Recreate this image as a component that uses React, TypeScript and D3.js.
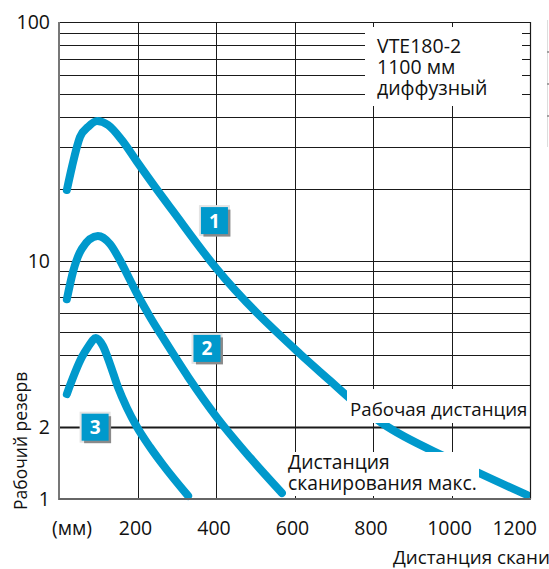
import React from "react";
import * as d3 from "d3";

// ---- data ----
const curve1Dist = [20, 33, 53.5, 74, 97, 125, 160, 199, 245, 288, 400, 614, 690, 746, 823, 1001, 1192];
const curve1Res = [19.75, 24.66, 32.95, 36.3, 38.45, 37.0, 32.0, 25.9, 20.3, 16.3, 9.3, 4.06, 3.14, 2.6, 2.08, 1.457, 1.04];
const curve2Dist = [20, 36, 58, 99, 130, 155, 181, 199, 232, 270, 329, 403, 487, 568];
const curve2Res = [6.88, 9.0, 11.2, 12.67, 11.73, 10.05, 8.28, 7.24, 5.8, 4.6, 3.25, 2.19, 1.49, 1.06];
const curve3Dist = [20, 58.6, 74, 94, 112, 130, 150, 173, 199, 232, 265, 329];
const curve3Res = [2.755, 3.94, 4.34, 4.73, 4.38, 3.68, 2.95, 2.41, 2.0, 1.65, 1.39, 1.03];
const badgeNames = ["1", "2", "3"];
const badgeDist = [396, 377, 92];
const badgeRes = [14.7, 4.28, 2.0];
const xTickValues = [200, 400, 600, 800, 1000, 1200];
const xTickLabels = ["200", "400", "600", "800", "1000", "1200"];
const yTickValues = [1, 2, 10, 100];
const yTickLabels = ["1", "2", "10", "100"];
const yGridValues = [2, 3, 4, 5, 6, 7, 8, 9, 10, 20, 30, 40, 50, 60, 70, 80, 90];
const legendLines = ["VTE180-2", "1100 мм", "диффузный"];

const BLUE = "#0099cc";
const FONT = "'Open Sans', 'Noto Sans', sans-serif";

export default function App() {
  const W = 549, H = 569;
  const x = d3.scaleLinear().domain([0, 1200]).range([59, 530]);
  const y = d3.scaleLog().domain([1, 100]).range([499, 22]);
  const line = d3
    .line<[number, number]>()
    .x((d) => x(d[0]))
    .y((d) => y(d[1]))
    .curve(d3.curveMonotoneX);
  const curves = [
    d3.zip(curve1Dist, curve1Res) as [number, number][],
    d3.zip(curve2Dist, curve2Res) as [number, number][],
    d3.zip(curve3Dist, curve3Res) as [number, number][],
  ];
  const x0 = x(0), x1 = x(1200), yTop = y(100), yBot = y(1);
  const gridColor = "#1a1a1a";

  return (
    <svg width={W} height={H} style={{ position: "absolute", left: 0, top: 0, background: "#fff" }} fontFamily={FONT}>
      <rect x={0} y={0} width={W} height={H} fill="#fff" />
      {/* horizontal grid */}
      {yGridValues.map((v) => (
        <line key={"h" + v} x1={x0} x2={x1} y1={Math.round(y(v)) + 0.5} y2={Math.round(y(v)) + 0.5}
          stroke={gridColor} strokeWidth={v === 2 ? 2 : 1} />
      ))}
      {/* vertical grid */}
      {xTickValues.slice(0, 5).map((v) => (
        <line key={"v" + v} x1={Math.round(x(v)) + 0.5} x2={Math.round(x(v)) + 0.5} y1={yTop} y2={yBot}
          stroke={gridColor} strokeWidth={1} />
      ))}
      {/* curves */}
      {curves.map((c, i) => (
        <path key={"c" + i} d={line(c) || ""} fill="none" stroke={BLUE} strokeWidth={8}
          strokeLinecap="round" strokeLinejoin="round" />
      ))}
      {/* white label boxes */}
      <rect x={365} y={27} width={157} height={79} fill="#fff" />
      <rect x={347} y={389} width={181} height={34} fill="#fff" />
      <rect x={286} y={452} width={193} height={44} fill="#fff" />
      {/* frame */}
      <line x1={x0} x2={x1} y1={yTop + 0.5} y2={yTop + 0.5} stroke={gridColor} strokeWidth={1.2} />
      <line x1={x1 + 0.5} x2={x1 + 0.5} y1={yTop} y2={yBot} stroke={gridColor} strokeWidth={1.2} />
      <line x1={x0} x2={x0} y1={yTop} y2={yBot + 1} stroke="#777" strokeWidth={2} />
      <line x1={x0} x2={x1 + 1} y1={yBot} y2={yBot} stroke="#666" strokeWidth={2} />
      {/* legend text */}
      {legendLines.map((t, i) => (
        <text key={"lg" + i} x={377} y={52.5 + i * 21} fontSize={19.5} fill="#111">{t}</text>
      ))}
      <text x={350} y={416} fontSize={18.7} fill="#111">Рабочая дистанция</text>
      <text x={288} y={469} fontSize={19.3} fill="#111">Дистанция</text>
      <text x={288} y={490} fontSize={19.3} fill="#111">сканирования макс.</text>
      {/* badges */}
      {badgeNames.map((n, i) => {
        const cx = x(badgeDist[i]), cy = y(badgeRes[i]);
        const s = 27;
        return (
          <g key={"b" + n}>
            <rect x={cx - s / 2 - 2} y={cy - s / 2 - 2} width={s + 4} height={s + 4} fill="#e4e4e4" />
            <rect x={cx - s / 2 + 2.5} y={cy - s / 2 + 2.5} width={s} height={s} fill="#8a8a8a" />
            <rect x={cx - s / 2} y={cy - s / 2} width={s} height={s} fill={BLUE} />
            <text x={cx} y={cy + 7} textAnchor="middle" fontSize={19} fontWeight="bold" fill="#fff">{n}</text>
          </g>
        );
      })}
      {/* y ticks */}
      {yTickValues.map((v, i) => (
        <text key={"yt" + v} x={50} y={y(v) + 7} textAnchor="end" fontSize={19.5} fill="#111">{yTickLabels[i]}</text>
      ))}
      {/* x ticks */}
      {xTickValues.map((v, i) => (
        <text key={"xt" + v} x={i === xTickValues.length - 1 ? x(v) + 7 : x(v) - 2} y={535}
          textAnchor={i === xTickValues.length - 1 ? "end" : "middle"} fontSize={19.5} fill="#111">{xTickLabels[i]}</text>
      ))}
      <text x={52} y={535} fontSize={19.5} fill="#111">(мм)</text>
      <text x={393} y={564} fontSize={18.8} fill="#111">Дистанция скани</text>
      <text transform={`translate(27,510) rotate(-90)`} fontSize={17.5} fill="#111">Рабочий резерв</text>
      {/* cropped neighbour fragment at right edge */}
      <line x1={547.5} x2={547.5} y1={20} y2={147} stroke="#ddd" strokeWidth={1} />
      {[52, 84, 116].map((t) => (
        <line key={"rt" + t} x1={547} x2={549} y1={t} y2={t} stroke="#888" strokeWidth={1.5} />
      ))}
    </svg>
  );
}
